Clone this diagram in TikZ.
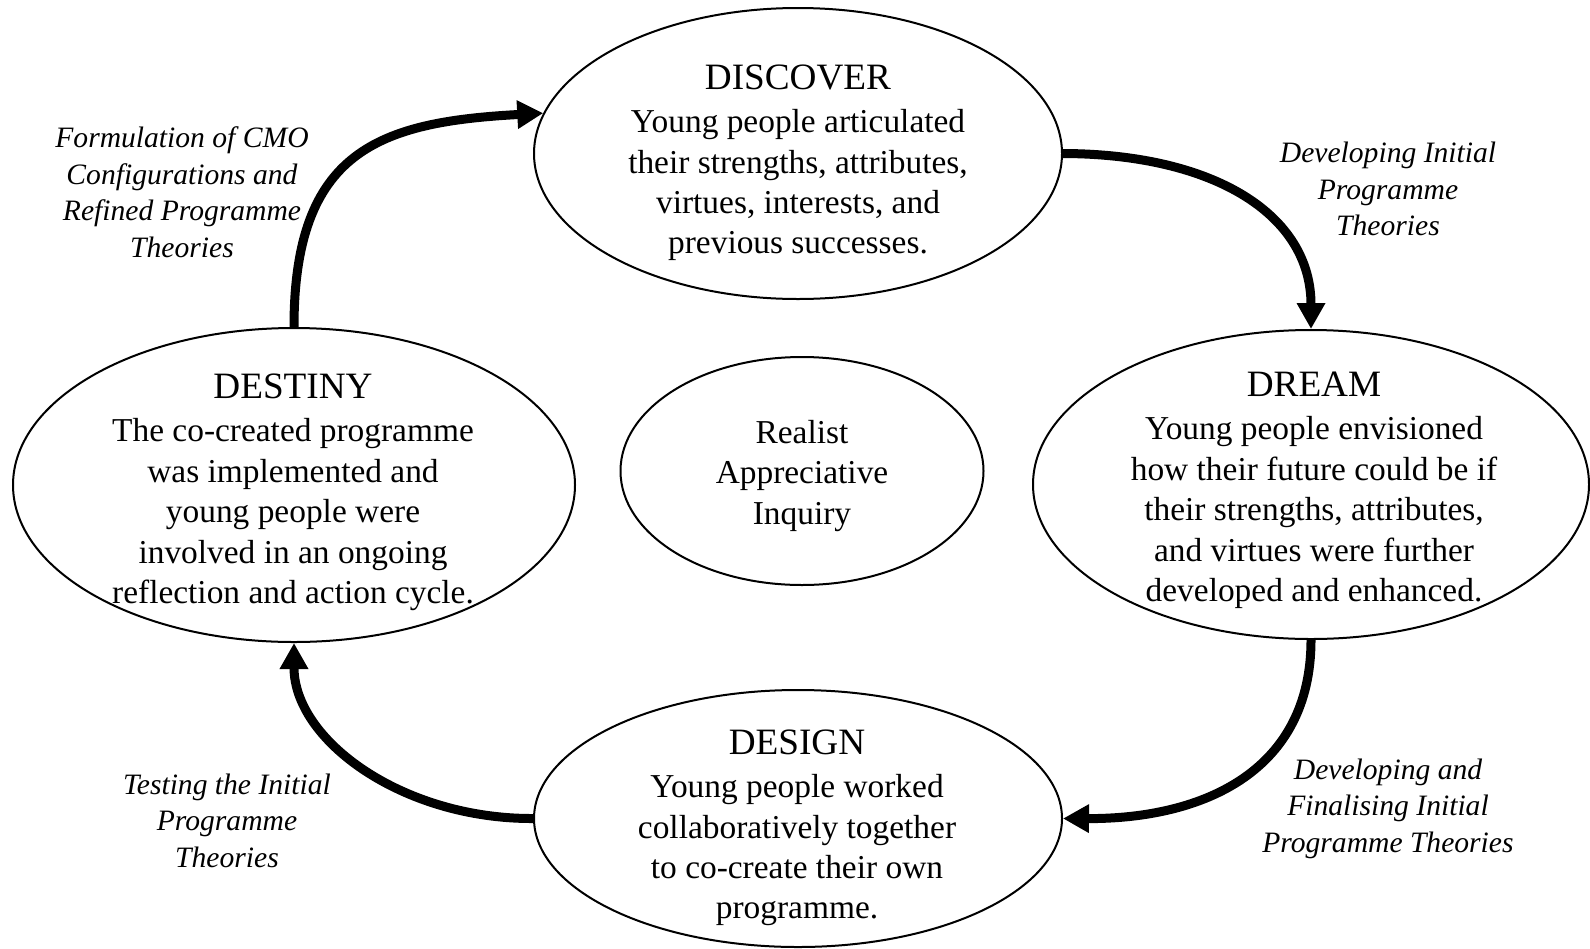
\documentclass[tikz,border=0pt]{standalone}
\usepackage{fontspec}
\setmainfont{Liberation Serif}
\usetikzlibrary{shapes.geometric,arrows.meta}

\tikzset{
  phase/.style={draw, line width=1pt, ellipse, inner sep=0pt},
  phasetext/.style={align=center, inner sep=0pt, font=\fontsize{16.7}{20.2}\selectfont},
  cyclelabel/.style={align=center, inner sep=0pt, font=\fontsize{14.8}{18.25}\selectfont\itshape},
  cyclearrow/.style={line width=4.5pt, -{Triangle[length=13pt,width=13.5pt]}},
}
\newcommand{\phasehead}[1]{{\fontsize{18.6}{22}\selectfont #1}\\[1.3pt]}

\begin{document}
\begin{tikzpicture}[x=0.5pt,y=-0.5pt]
\useasboundingbox (0,0) rectangle (1590,948);

% the four phases and the centre
\node[phase, minimum width=264pt, minimum height=145.5pt] (discover) at (798,153.5) {};
\node[phase, minimum width=278pt, minimum height=154.5pt] (dream)    at (1311,484.5) {};
\node[phase, minimum width=281pt, minimum height=157pt]   (destiny)  at (294,485) {};
\node[phase, minimum width=264pt, minimum height=128.5pt] (design)   at (798,818.5) {};
\node[phase, minimum width=181.5pt, minimum height=114pt] (rai)      at (802,471) {};

% phase texts
\node[phasetext] (discover-text) at (798,163) {\phasehead{DISCOVER}Young people articulated\\their strengths, attributes,\\virtues, interests, and\\previous successes.};
\node[phasetext] (dream-text) at (1314,490.5) {\phasehead{DREAM}Young people envisioned\\how their future could be if\\their strengths, attributes,\\and virtues were further\\developed and enhanced.};
\node[phasetext] (destiny-text) at (293,492.5) {\phasehead{DESTINY}The co-created programme\\was implemented and\\young people were\\involved in an ongoing\\reflection and action cycle.};
\node[phasetext] (design-text) at (797,828) {\phasehead{DESIGN}Young people worked\\collaboratively together\\to co-create their own\\programme.};
\node[phasetext] (rai-text) at (802,476) {Realist\\Appreciative\\Inquiry};

% cycle arrows
\draw[cyclearrow] (destiny.north) .. controls (294,150) and (380,122) .. (discover.171);
\draw[cyclearrow] (discover.east) .. controls (1215,154) and (1311,215) .. (dream.north);
\draw[cyclearrow] (dream.south) .. controls (1311,770) and (1205,819) .. (design.east);
\draw[cyclearrow] (design.west) .. controls (402,819) and (294,740) .. (destiny.south);

% arrow labels
\node[cyclelabel] (lab-tl) at (182,192) {Formulation of CMO\\Configurations and\\Refined Programme\\Theories};
\node[cyclelabel] (lab-tr) at (1388,189) {Developing Initial\\Programme\\Theories};
\node[cyclelabel] (lab-br) at (1388,808.5) {Developing and\\Finalising Initial\\Programme Theories};
\node[cyclelabel] (lab-bl) at (227,820.5) {Testing the Initial\\Programme\\Theories};
\end{tikzpicture}
\end{document}
